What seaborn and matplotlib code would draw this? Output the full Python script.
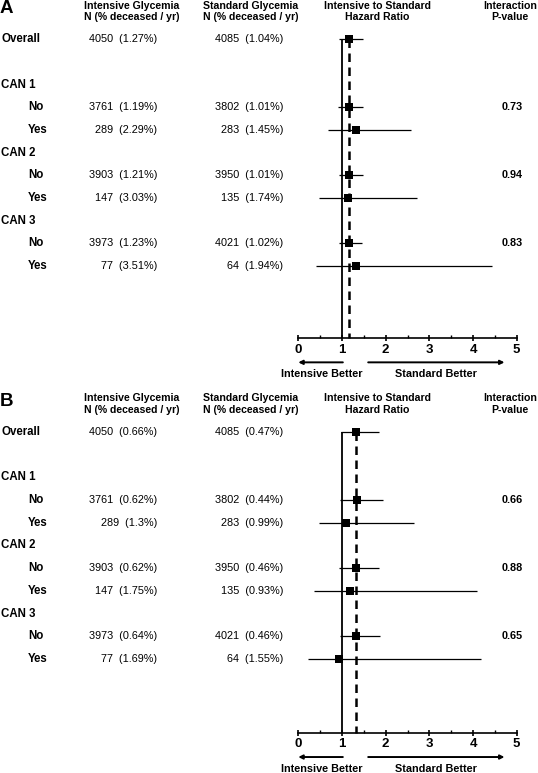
import matplotlib
matplotlib.use("Agg")
import matplotlib.pyplot as plt
import seaborn as sns
import pandas as pd
import numpy as np

sns.set_theme(style="white")
plt.rcParams["font.family"] = ["Liberation Sans", "DejaVu Sans"]
plt.rcParams["text.color"] = "black"
plt.rcParams["xtick.color"] = "black"
plt.rcParams["axes.labelcolor"] = "black"

# ---------------- data ----------------
row_labels = ["Overall", "CAN 1", "No", "Yes", "CAN 2", "No", "Yes", "CAN 3", "No", "Yes"]
row_pos = [0, 2, 3, 4, 5, 6, 7, 8, 9, 10]
row_is_sub = [False, False, True, True, False, True, True, False, True, True]

est_rows = [0, 3, 4, 6, 7, 9, 10]          # rows carrying estimates
int_n = [4050, 3761, 289, 3903, 147, 3973, 77]
std_n = [4085, 3802, 283, 3950, 135, 4021, 64]

int_rate_A = ["1.27%", "1.19%", "2.29%", "1.21%", "3.03%", "1.23%", "3.51%"]
std_rate_A = ["1.04%", "1.01%", "1.45%", "1.01%", "1.74%", "1.02%", "1.94%"]
hr_A = [1.15, 1.16, 1.31, 1.17, 1.13, 1.17, 1.33]
lo_A = [0.93, 0.92, 0.67, 0.93, 0.48, 0.93, 0.41]
hi_A = [1.47, 1.47, 2.58, 1.47, 2.72, 1.45, 4.44]
p_A = ["0.73", "0.94", "0.83"]

int_rate_B = ["0.66%", "0.62%", "1.3%", "0.62%", "1.75%", "0.64%", "1.69%"]
std_rate_B = ["0.47%", "0.44%", "0.99%", "0.46%", "0.93%", "0.46%", "1.55%"]
hr_B = [1.33, 1.35, 1.09, 1.32, 1.19, 1.32, 0.94]
lo_B = [0.97, 0.95, 0.47, 0.94, 0.36, 0.96, 0.23]
hi_B = [1.84, 1.94, 2.65, 1.84, 4.08, 1.86, 4.18]
p_B = ["0.66", "0.88", "0.65"]
p_rows = [3, 6, 9]

xticks = [0, 1, 2, 3, 4, 5]

# ---------------- layout ----------------
W, H = 538, 773
fig = plt.figure(figsize=(W / 100, H / 100), dpi=100)

X0_PX, UNIT_PX = 298.3, 43.68


def px2x(px):
    return (px - X0_PX) / UNIT_PX


def panel(rect, ylim, letter, int_rate, std_rate, hr, lo, hi, pvals, axis_y):
    ax = fig.add_axes(rect)
    ax.set_xlim(px2x(0), px2x(W))
    ax.set_ylim(*ylim)
    for s in ["top", "left", "right"]:
        ax.spines[s].set_visible(False)
    sp = ax.spines["bottom"]
    sp.set_position(("data", axis_y))
    sp.set_bounds(0, 5)
    sp.set_color("black")
    sp.set_linewidth(1.2)
    ax.set_yticks([])
    ax.set_xticks(xticks)
    ax.set_xticklabels([str(t) for t in xticks], fontsize=9.5, fontweight="bold")
    ax.set_xticks(np.arange(0.5, 5, 1.0), minor=True)
    ax.tick_params(axis="x", which="major", direction="inout", length=5, width=1.2,
                   color="black", labelcolor="black", pad=1.5, bottom=True)
    ax.tick_params(axis="x", which="minor", direction="in", length=2.5, width=1.0,
                   color="black", bottom=True)
    ax.set_facecolor("none")
    ax.grid(False)

    df = pd.DataFrame({"row": est_rows, "hr": hr, "lo": lo, "hi": hi})

    # reference lines
    ax.vlines(1, 0, axis_y, color="black", lw=1.3, zorder=1)
    ax.vlines(hr[0], 0, axis_y, color="black", lw=1.8, linestyles=(0, (3.4, 2.2)), zorder=1)

    # CIs and point estimates
    ax.hlines(df["row"], df["lo"], df["hi"], color="black", lw=0.9, zorder=2)
    sns.scatterplot(data=df, x="hr", y="row", marker="s", s=32, color="black",
                    edgecolor="black", linewidth=0, ax=ax, zorder=3, legend=False)
    ax.set_xlabel("")
    ax.set_ylabel("")

    # panel letter
    ax.text(px2x(0), -1.15, letter, fontsize=13.5, fontweight="bold", ha="left", va="baseline")

    # headers
    hy1, hy2 = -1.47, -0.97
    hdr = dict(fontsize=7.6, fontweight="bold", ha="center", va="center")
    ax.text(px2x(132), hy1, "Intensive Glycemia", **hdr)
    ax.text(px2x(132), hy2, "N (% deceased / yr)", **hdr)
    ax.text(px2x(251), hy1, "Standard Glycemia", **hdr)
    ax.text(px2x(251), hy2, "N (% deceased / yr)", **hdr)
    ax.text(px2x(377), hy1, "Intensive to Standard", **hdr)
    ax.text(px2x(377), hy2, "Hazard Ratio", **hdr)
    ax.text(px2x(510), hy1, "Interaction", **hdr)
    ax.text(px2x(510), hy2, "P-value", **hdr)

    # row labels
    for lab, y, sub in zip(row_labels, row_pos, row_is_sub):
        ax.text(px2x(28 if sub else 1), y, lab, fontsize=8.3, fontweight="bold",
                ha="left", va="center")

    # numbers
    for y, n1, r1, n2, r2 in zip(est_rows, int_n, int_rate, std_n, std_rate):
        ax.text(px2x(157), y, f"{n1}  ({r1})", fontsize=7.8, ha="right", va="center")
        ax.text(px2x(283), y, f"{n2}  ({r2})", fontsize=7.8, ha="right", va="center")

    for y, p in zip(p_rows, pvals):
        ax.text(px2x(512), y, p, fontsize=7.8, fontweight="bold", ha="center", va="center")

    # direction arrows
    ay = axis_y + 1.07
    ax.annotate("", xy=(0, ay), xytext=(1.02, ay),
                arrowprops=dict(arrowstyle="-|>", color="black", lw=1.4,
                                mutation_scale=6, shrinkA=0, shrinkB=0))
    ax.annotate("", xy=(4.72, ay), xytext=(1.6, ay),
                arrowprops=dict(arrowstyle="-|>", color="black", lw=1.4,
                                mutation_scale=6, shrinkA=0, shrinkB=0))
    ty = axis_y + 1.6
    ax.text(px2x(322), ty, "Intensive Better", fontsize=7.8, fontweight="bold",
            ha="center", va="center")
    ax.text(px2x(436), ty, "Standard Better", fontsize=7.8, fontweight="bold",
            ha="center", va="center")
    return ax


# Panel A : pixels 0..393 ; row0 at 39.3 px, 22.67 px per row
hA = 393
panel([0, 1 - hA / H, 1, hA / H], ((hA - 39.3) / 22.67, (0 - 39.3) / 22.67), "A",
      int_rate_A, std_rate_A, hr_A, lo_A, hi_A, p_A, 13.18)

# Panel B : pixels 393..773 ; row0 at 431.7 px, 22.75 px per row
panel([0, 0, 1, (H - hA) / H], ((H - 431.7) / 22.75, (hA - 431.7) / 22.75), "B",
      int_rate_B, std_rate_B, hr_B, lo_B, hi_B, p_B, 13.23)

fig.savefig("out.png", dpi=100)
